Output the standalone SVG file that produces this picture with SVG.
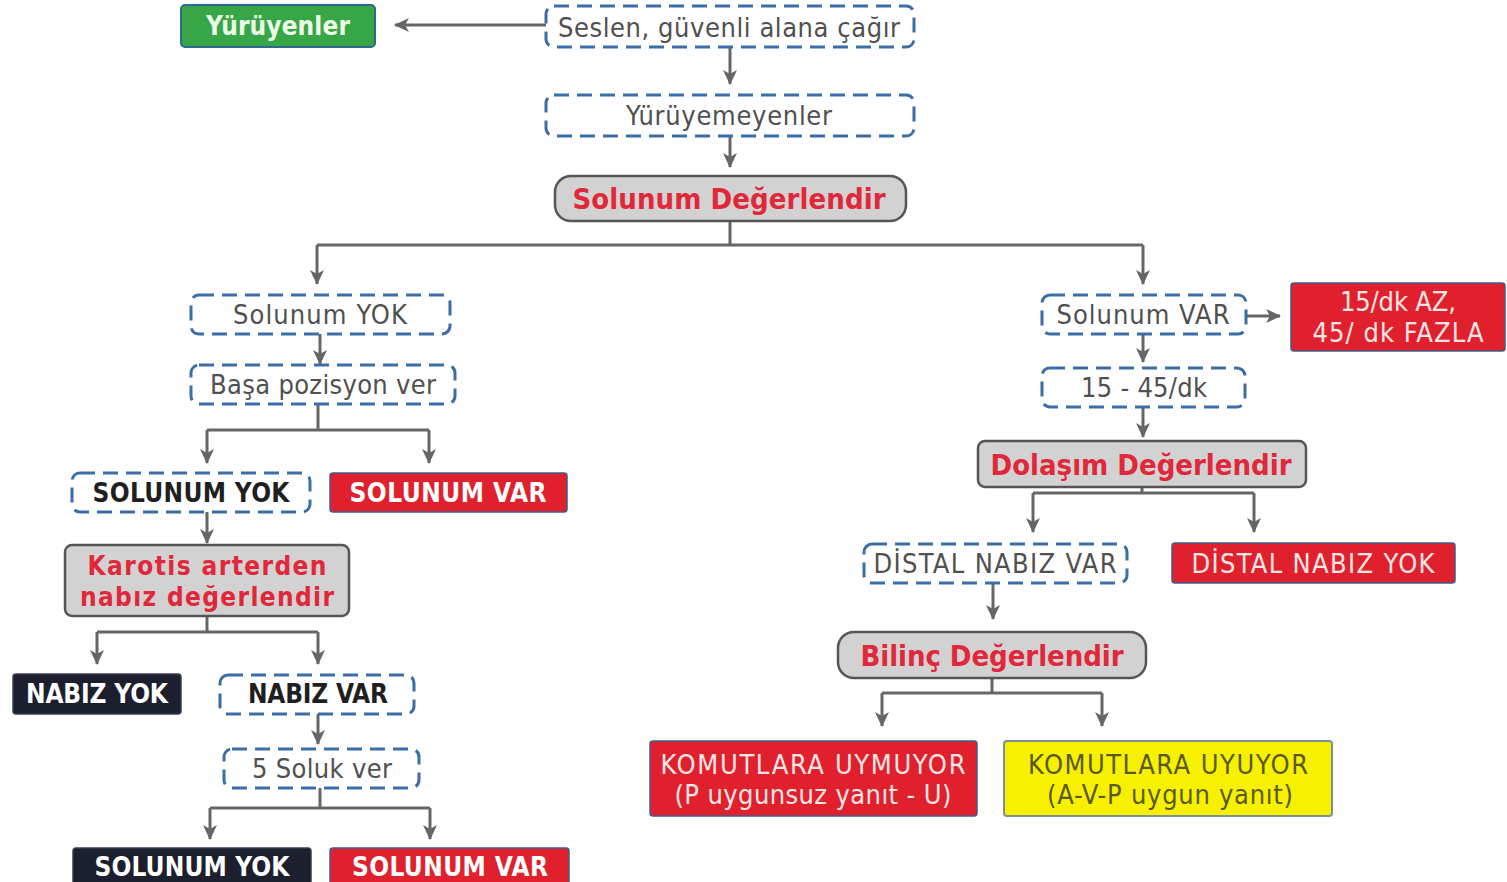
<svg xmlns="http://www.w3.org/2000/svg" width="1507" height="882" viewBox="0 0 1507 882">
<defs>
<marker id="ah" markerUnits="userSpaceOnUse" markerWidth="16" markerHeight="16" viewBox="0 0 16 16" refX="14" refY="8" orient="auto">
<path d="M0,1 L15,8 L0,15 L4,8 Z" fill="#666"/>
</marker>
<style>
text{font-family:"DejaVu Sans Condensed","DejaVu Sans",sans-serif;font-stretch:condensed;text-anchor:middle}
.dash{fill:#fff;stroke:#3b6ea6;stroke-width:3;stroke-dasharray:15 8}
.gray{fill:#d2d2d2;stroke:#555;stroke-width:2.5}
.red{fill:#e0202c;stroke:#3f5b8a;stroke-width:1.5}
.dark{fill:#1b1f2e;stroke:#3a3f50;stroke-width:1.5}
.t{font-size:27px;fill:#505050}
.tb{font-size:26px;fill:#1f1f1f;font-weight:bold}
.tw{font-size:26px;fill:#fff;font-weight:bold}
.tr{font-size:29px;fill:#e0283a;font-weight:bold}
.tk{font-size:26px;fill:#e0283a;font-weight:bold}
.tl{font-size:27px;fill:#fbe6e6}
.ty{font-size:27px;fill:#5a5a20}
.c{fill:none;stroke:#666;stroke-width:3}
.a{fill:none;stroke:#666;stroke-width:3;marker-end:url(#ah)}
</style>
</defs>
<rect width="1507" height="882" fill="#fff"/>
<g id="connectors">
<path class="a" d="M546,25 H395"/>
<path class="a" d="M730,47 V84"/>
<path class="a" d="M730,136 V167"/>
<path class="c" d="M730,221 V245 M317,245 H1143"/>
<path class="a" d="M317,245 V284"/>
<path class="a" d="M1143,245 V284"/>
<path class="a" d="M320,334 V364"/>
<path class="c" d="M318,404 V430 M207,430 H429"/>
<path class="a" d="M207,430 V463"/>
<path class="a" d="M429,430 V463"/>
<path class="a" d="M207,512 V543"/>
<path class="c" d="M207,616 V632 M97,632 H318"/>
<path class="a" d="M97,632 V664"/>
<path class="a" d="M318,632 V664"/>
<path class="a" d="M318,714 V744"/>
<path class="c" d="M320,788 V808 M210,808 H430"/>
<path class="a" d="M210,808 V839"/>
<path class="a" d="M430,808 V839"/>
<path class="a" d="M1246,316 H1280"/>
<path class="a" d="M1143,334 V362"/>
<path class="a" d="M1143,407 V437"/>
<path class="c" d="M1142,487 V493 M1033,493 H1254"/>
<path class="a" d="M1033,493 V532"/>
<path class="a" d="M1254,493 V532"/>
<path class="a" d="M993,583 V619"/>
<path class="c" d="M992,678 V693 M882,693 H1102"/>
<path class="a" d="M882,693 V726"/>
<path class="a" d="M1102,693 V726"/>
</g>
<g id="yuruyenler"><rect x="181" y="5" width="194" height="42" rx="4" fill="#36a646" stroke="#2f6a8e" stroke-width="2"/><text class="tw" x="278" y="35" textLength="144" style="fill:#eefbe8">Yürüyenler</text></g>
<g id="seslen"><rect class="dash" x="546" y="6" width="368" height="41" rx="8"/><text class="t" x="729" y="37" textLength="342">Seslen, güvenli alana çağır</text></g>
<g id="yuruyemeyenler"><rect class="dash" x="546" y="95" width="368" height="41" rx="8"/><text class="t" x="729" y="125" textLength="206">Yürüyemeyenler</text></g>
<g id="solunum-degerlendir"><rect class="gray" x="555" y="176" width="351" height="45" rx="16"/><text class="tr" x="729" y="209" textLength="313">Solunum Değerlendir</text></g>
<g id="solunum-yok-1"><rect class="dash" x="191" y="295" width="259" height="39" rx="8"/><text class="t" x="320" y="324" textLength="174">Solunum YOK</text></g>
<g id="basa-pozisyon"><rect class="dash" x="191" y="365" width="264" height="39" rx="8"/><text class="t" x="323" y="394" textLength="226">Başa pozisyon ver</text></g>
<g id="solunum-yok-2"><rect class="dash" x="72" y="473" width="238" height="39" rx="8"/><text class="tb" x="191" y="502" textLength="197">SOLUNUM YOK</text></g>
<g id="solunum-var-2"><rect class="red" x="330" y="473" width="237" height="39" rx="3"/><text class="tw" x="448" y="502" textLength="197">SOLUNUM VAR</text></g>
<g id="karotis"><rect class="gray" x="65" y="545" width="284" height="71" rx="7"/><text class="tk" x="207" y="575" textLength="239">Karotis arterden</text><text class="tk" x="207" y="606" textLength="254">nabız değerlendir</text></g>
<g id="nabiz-yok"><rect class="dark" x="13" y="674" width="168" height="40" rx="3"/><text class="tw" x="97" y="703" textLength="142">NABIZ YOK</text></g>
<g id="nabiz-var"><rect class="dash" x="220" y="675" width="194" height="39" rx="8"/><text class="tb" x="318" y="703" textLength="140">NABIZ VAR</text></g>
<g id="soluk-ver"><rect class="dash" x="224" y="749" width="195" height="39" rx="8"/><text class="t" x="322" y="778" textLength="140">5 Soluk ver</text></g>
<g id="solunum-yok-3"><rect class="dark" x="73" y="848" width="238" height="40" rx="3"/><text class="tw" x="192" y="876" textLength="195">SOLUNUM YOK</text></g>
<g id="solunum-var-3"><rect class="red" x="330" y="848" width="239" height="40" rx="3"/><text class="tw" x="450" y="876" textLength="196">SOLUNUM VAR</text></g>
<g id="solunum-var-r"><rect class="dash" x="1042" y="295" width="204" height="39" rx="8"/><text class="t" x="1143" y="324" textLength="173">Solunum VAR</text></g>
<g id="az-fazla"><rect class="red" x="1291" y="283" width="214" height="68" rx="3"/><text class="tl" x="1398" y="311" textLength="116">15/dk AZ,</text><text class="tl" x="1398" y="342" textLength="171">45/ dk FAZLA</text></g>
<g id="hiz"><rect class="dash" x="1042" y="368" width="203" height="39" rx="8"/><text class="t" x="1144" y="397" textLength="126">15 - 45/dk</text></g>
<g id="dolasim"><rect class="gray" x="978" y="441" width="328" height="46" rx="7"/><text class="tr" x="1141" y="475" textLength="301">Dolaşım Değerlendir</text></g>
<g id="distal-var"><rect class="dash" x="864" y="544" width="263" height="39" rx="8"/><text class="t" x="995" y="573" textLength="243">DİSTAL NABIZ VAR</text></g>
<g id="distal-yok"><rect class="red" x="1172" y="543" width="283" height="40" rx="3"/><text class="tl" x="1313" y="573" textLength="243">DİSTAL NABIZ YOK</text></g>
<g id="bilinc"><rect class="gray" x="838" y="632" width="308" height="46" rx="16"/><text class="tr" x="992" y="666" textLength="263">Bilinç Değerlendir</text></g>
<g id="uymuyor"><rect class="red" x="650" y="741" width="327" height="75" rx="3"/><text class="tl" x="813" y="774" textLength="305">KOMUTLARA UYMUYOR</text><text class="tl" x="813" y="804" textLength="277">(P uygunsuz yanıt - U)</text></g>
<g id="uyuyor"><rect x="1004" y="741" width="328" height="75" rx="3" fill="#f7f000" stroke="#7a9096" stroke-width="2"/><text class="ty" x="1168" y="774" textLength="280">KOMUTLARA UYUYOR</text><text class="ty" x="1170" y="804" textLength="246">(A-V-P uygun yanıt)</text></g>
</svg>
